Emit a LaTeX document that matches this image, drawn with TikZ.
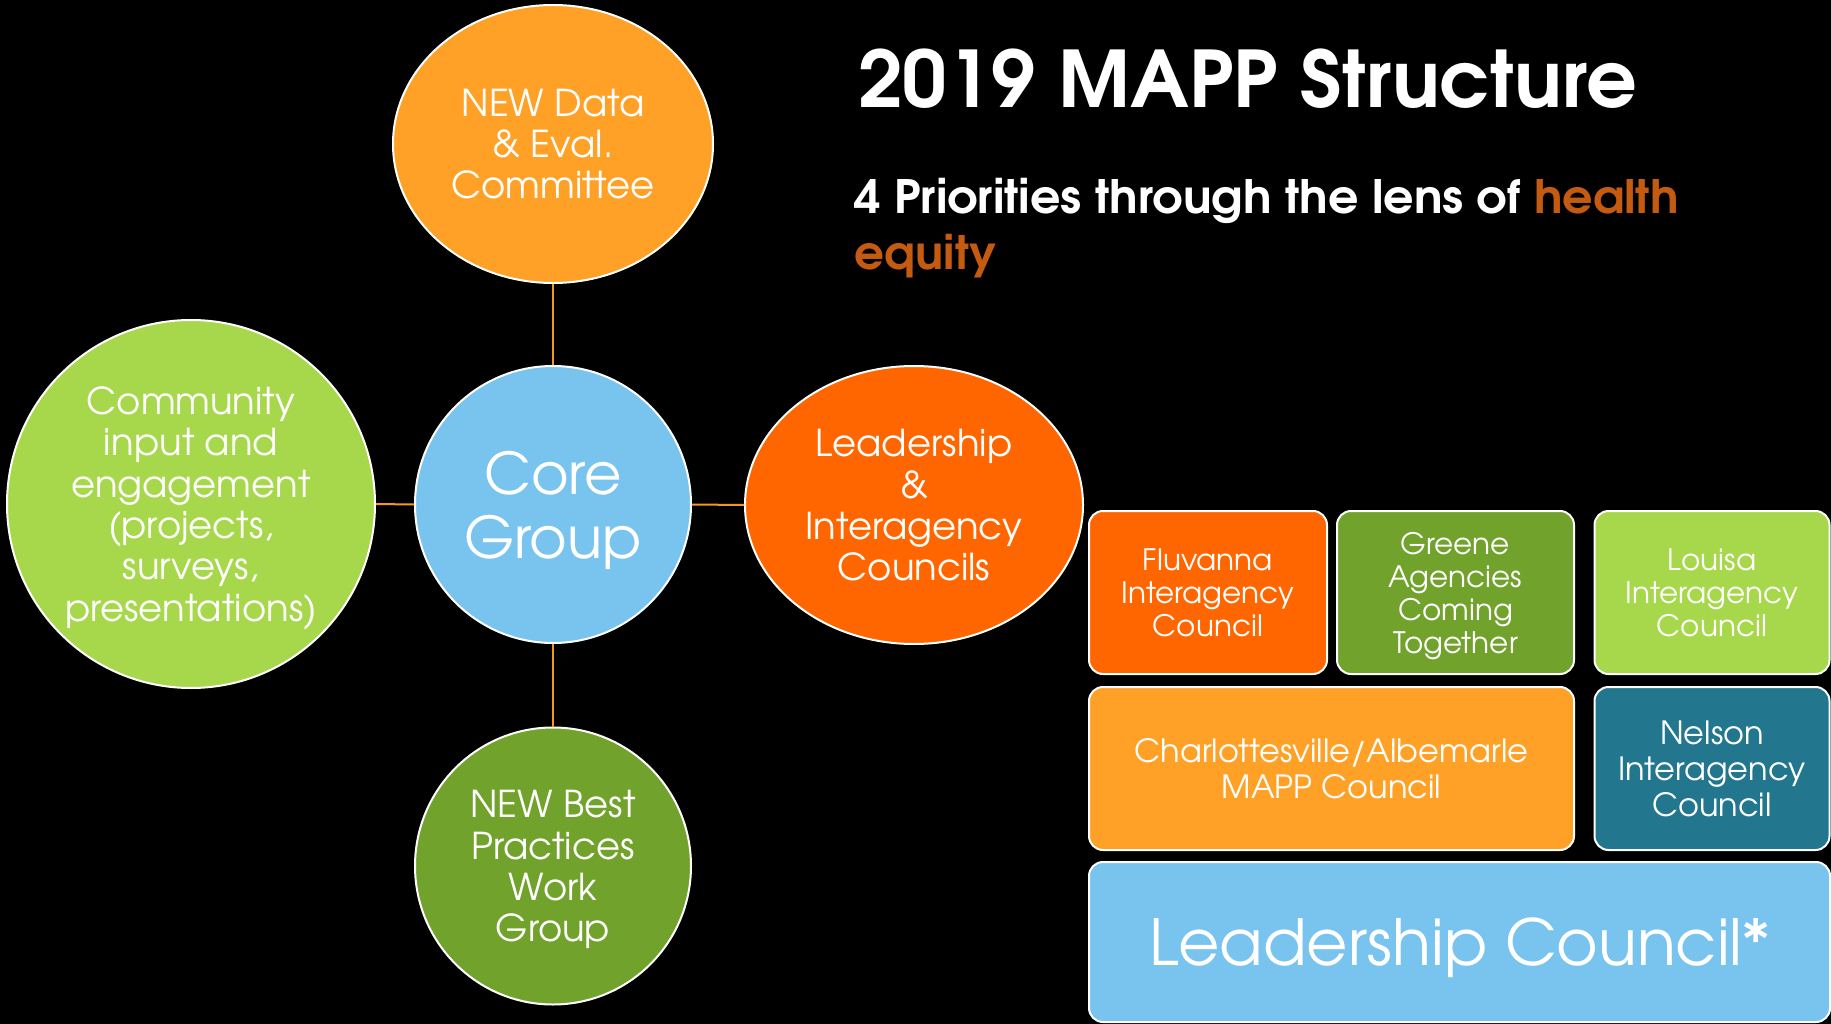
\documentclass[tikz,border=0pt]{standalone}
\usepackage{fontspec}
\setmainfont{TeX Gyre Adventor}
\usepackage{graphicx}
\usetikzlibrary{shapes.geometric}
\definecolor{lorange}{HTML}{FFA126}
\definecolor{dorange}{HTML}{FF6600}
\definecolor{lblue}{HTML}{78C4EE}
\definecolor{lgreen}{HTML}{A7D84B}
\definecolor{dgreen}{HTML}{71A22B}
\definecolor{teal}{HTML}{22768D}
\definecolor{linkor}{HTML}{F39A1E}
\definecolor{healthc}{HTML}{C55A11}
\newsavebox\fitbox
\newcommand\hfit[2]{\sbox\fitbox{#2}\pgfmathsetmacro\hratio{#1/\wd\fitbox}\scalebox{\hratio}[1]{\usebox\fitbox}}
\begin{document}
\begin{tikzpicture}[x=1pt,y=-1pt,
  bub/.style={ellipse, draw=white, line width=2pt, inner sep=0pt, text=white, align=center,
    text depth=0pt, font=\fontsize{37}{41.3}\selectfont},
  box/.style={rectangle, rounded corners=14pt, draw=white, line width=2pt, inner sep=0pt,
    text=white, align=center, text depth=0pt},
  small/.style={font=\fontsize{29.5}{33}\selectfont},
  mid/.style={font=\fontsize{32}{36}\selectfont},
  link/.style={draw=linkor, line width=2pt},
  ttl/.style={anchor=base west, inner sep=0pt, text=white}]
\useasboundingbox (0,0) rectangle (1831,1024);
\fill[black] (0,0) rectangle (1831,1024);

% bubbles
\node[bub, fill=lorange, minimum width=320pt, minimum height=278pt] (data) at (553,144)
  {NEW Data\\\& Eval.\\Committee};
\node[bub, fill=lblue, minimum width=276pt, minimum height=277pt,
  font=\fontsize{57.6}{64}\selectfont] (core) at (553,504.5) {Core\\Group};
\node[bub, fill=lgreen, minimum width=368pt, minimum height=368pt] (comm) at (191,504)
  {Community\\input and\\engagement\\(projects,\\surveys,\\presentations)};
\node[bub, fill=dorange, minimum width=338pt, minimum height=278pt] (lead) at (914,505)
  {Leadership\\\&\\Interagency\\Councils};
\node[bub, fill=dgreen, minimum width=276pt, minimum height=277pt] (best) at (553,866)
  {NEW Best\\Practices\\Work\\Group};

% connectors
\draw[link] (data.south) -- (core.north);
\draw[link] (comm.east) -- (core.west);
\draw[link] (core.east) -- (lead.west);
\draw[link] (core.south) -- (best.north);

% boxes
\node[box, small, fill=dorange, minimum width=238pt, minimum height=163pt] (fluv) at (1208,592.5)
  {Fluvanna\\Interagency\\Council};
\node[box, small, fill=dgreen, minimum width=237pt, minimum height=163pt] (greene) at (1455.5,592.5)
  {Greene\\Agencies\\Coming\\Together};
\node[box, small, fill=lgreen, minimum width=235pt, minimum height=163pt] (louisa) at (1712,592.5)
  {Louisa\\Interagency\\Council};
\node[box, mid, fill=lorange, minimum width=485pt, minimum height=163pt] (cville) at (1331.5,768.5)
  {Charlottesville/Albemarle\\MAPP Council};
\node[box, mid, fill=teal, minimum width=235pt, minimum height=163pt] (nelson) at (1712,768.5)
  {Nelson\\Interagency\\Council};
\node[box, fill=lblue, minimum width=741pt, minimum height=160pt,
  font=\fontsize{63.6}{70}\selectfont] (lc) at (1459.5,942) {Leadership Council*};

% title
\node[ttl, font=\bfseries\fontsize{78}{80}\selectfont] (title) at (858,108)
  {\hfit{779}{2019 MAPP Structure}};
\node[ttl, font=\bfseries\fontsize{46}{50}\selectfont] (sub) at (854,214)
  {\hfit{825}{4 Priorities through the lens of \textcolor{healthc}{health}}};
\node[ttl, font=\bfseries\fontsize{46}{50}\selectfont, text=healthc] (equity) at (854,270)
  {\hfit{142}{equity}};
\end{tikzpicture}
\end{document}
